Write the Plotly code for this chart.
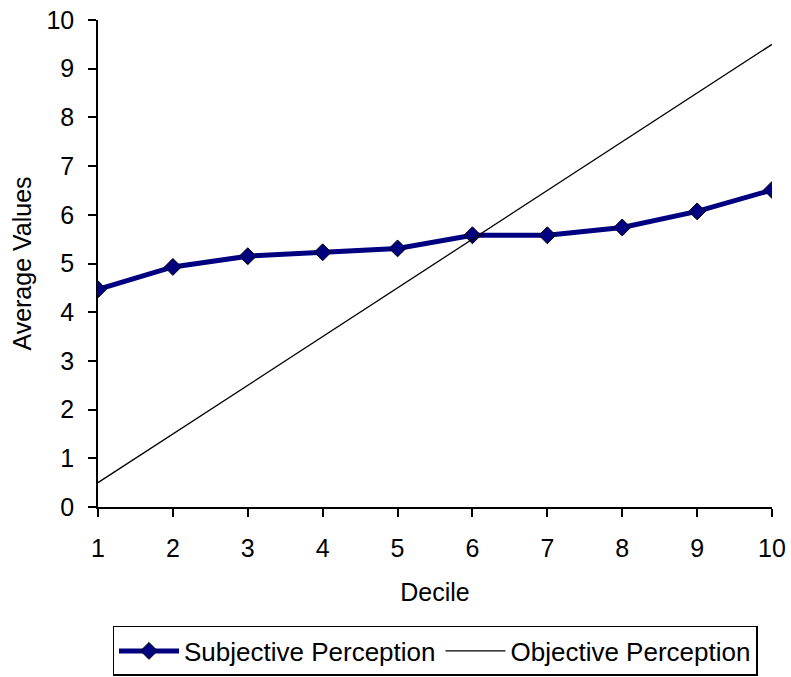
import plotly.graph_objects as go

deciles = [1, 2, 3, 4, 5, 6, 7, 8, 9, 10]
subjective = [4.47, 4.93, 5.15, 5.23, 5.31, 5.58, 5.58, 5.74, 6.07, 6.51]
objective = [0.5, 1.5, 2.5, 3.5, 4.5, 5.5, 6.5, 7.5, 8.5, 9.5]

font = "Liberation Sans, Arial, sans-serif"

fig = go.Figure()
fig.add_trace(go.Scatter(
    x=deciles, y=subjective, name="Subjective Perception",
    mode="lines+markers",
    line=dict(color="#000080", width=5),
    marker=dict(symbol="diamond", size=13, color="#000080",
                line=dict(color="black", width=1)),
))
fig.add_trace(go.Scatter(
    x=deciles, y=objective, name="Objective Perception",
    mode="lines", line=dict(color="black", width=1.3),
))

fig.update_layout(
    width=791, height=677,
    paper_bgcolor="white", plot_bgcolor="white",
    margin=dict(l=98, r=19, t=20, b=170, autoexpand=False),
    font=dict(family=font, size=25, color="black"),
    showlegend=True,
    legend=dict(orientation="h", x=0.5, xanchor="center", y=-0.347, yanchor="bottom",
                bordercolor="black", borderwidth=1.5, font=dict(size=26),
                itemwidth=60, tracegroupgap=0),
)
fig.update_xaxes(
    range=[1, 10], tickmode="array", tickvals=deciles,
    showline=True, linecolor="black", linewidth=1.5,
    ticks="outside", ticklen=8, tickcolor="black", tickwidth=1.5,
    ticklabelstandoff=10, automargin=False,
    showgrid=False, zeroline=False,
    title=dict(text="Decile", font=dict(size=25), standoff=23),
)
fig.update_yaxes(
    range=[0, 10], tickmode="linear", tick0=0, dtick=1,
    showline=True, linecolor="black", linewidth=1.5,
    ticks="outside", ticklen=8, tickcolor="black", tickwidth=1.5,
    ticklabelstandoff=9, automargin=False,
    showgrid=False, zeroline=False,
    title=dict(text="Average Values", font=dict(size=25), standoff=8),
)

fig.write_html("out.html")
